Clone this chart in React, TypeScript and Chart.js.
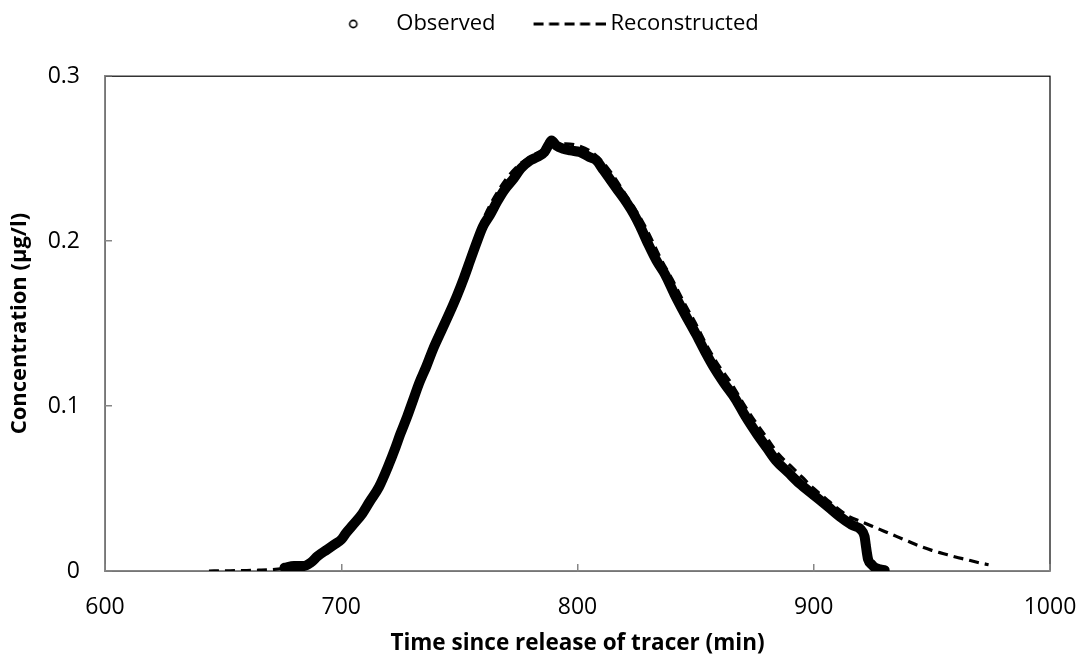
import React, { useEffect, useRef } from 'react';
import { Chart, registerables } from 'chart.js';

Chart.register(...registerables);

// ---- Data ----
const seriesNames = ['Observed', 'Reconstructed'];

const obsTime = [
  676, 680, 684, 687, 690, 694, 697, 700, 702, 705, 709, 712, 716, 720, 723, 725, 728, 730.5, 733, 736,
  739, 742.5, 746, 749, 752, 754.5, 757, 760, 763, 766, 769, 773, 776, 780, 783, 786, 788, 789, 791, 794,
  797, 801, 805, 808, 811, 814, 817, 821, 824, 826.5, 830, 833.5, 837, 841, 845, 850, 854, 857.5, 862, 867,
  871, 876, 880, 884, 889, 894, 900, 906, 911, 916, 920, 921.5, 922, 922.5, 923, 924.5, 926, 928, 930,
];
const obsConc = [
  0.002, 0.003, 0.003, 0.005, 0.009, 0.013, 0.016, 0.019, 0.023, 0.028, 0.035, 0.042, 0.051, 0.064, 0.075, 0.083, 0.094, 0.104, 0.114, 0.124,
  0.135, 0.146, 0.157, 0.167, 0.178, 0.188, 0.198, 0.209, 0.216, 0.224, 0.231, 0.238, 0.244, 0.249, 0.251, 0.254, 0.259, 0.261, 0.258, 0.256,
  0.255, 0.254, 0.251, 0.249, 0.243, 0.237, 0.231, 0.223, 0.216, 0.209, 0.198, 0.188, 0.18, 0.168, 0.157, 0.144, 0.133, 0.124, 0.114, 0.104,
  0.094, 0.083, 0.075, 0.067, 0.06, 0.053, 0.046, 0.039, 0.033, 0.028, 0.025, 0.021, 0.016, 0.011, 0.007, 0.004, 0.002, 0.001, 0.0005,
];

const recTime = [
  644, 650, 655, 660, 665, 670, 675, 680, 685, 690, 695, 700, 705, 710, 715, 720, 725, 730, 735, 740,
  745, 750, 755, 760, 765, 770, 775, 780, 785, 790, 795, 800, 805, 810, 815, 820, 825, 830, 835, 840,
  845, 850, 855, 860, 865, 870, 875, 880, 885, 890, 895, 900, 905, 910, 915, 920, 925, 930, 935, 940,
  945, 950, 955, 960, 965, 970, 974,
];
const recConc = [
  0.0, 0.0001, 0.0002, 0.0003, 0.0005, 0.0008, 0.0015, 0.003, 0.005, 0.009, 0.014, 0.02, 0.028, 0.038, 0.05, 0.064, 0.082, 0.101, 0.12, 0.139,
  0.156, 0.174, 0.195, 0.213, 0.227, 0.238, 0.246, 0.251, 0.255, 0.258, 0.259, 0.258, 0.255, 0.249, 0.24, 0.229, 0.218, 0.205, 0.19, 0.177,
  0.163, 0.15, 0.136, 0.124, 0.114, 0.102, 0.091, 0.081, 0.071, 0.064, 0.057, 0.05, 0.044, 0.038, 0.033, 0.03, 0.027, 0.024, 0.021, 0.018,
  0.015, 0.0125, 0.0105, 0.0085, 0.0068, 0.005, 0.0038,
];

const xMin = 600;
const xMax = 1000;
const xStep = 100;
const yMin = 0;
const yMax = 0.3;
const yStep = 0.1;

const xTitle = 'Time since release of tracer (min)';
const yTitle = 'Concentration (µg/l)';

const FONT = "'Open Sans', sans-serif";
const AXIS_GRAY = '#868686';

function circleIcon(): HTMLCanvasElement {
  const c = document.createElement('canvas');
  c.width = 60;
  c.height = 14;
  const ctx = c.getContext('2d');
  if (ctx) {
    ctx.strokeStyle = '#000';
    ctx.lineWidth = 1.6;
    ctx.beginPath();
    ctx.arc(45, 7, 3.6, 0, Math.PI * 2);
    ctx.stroke();
  }
  return c;
}

function dashIcon(): HTMLCanvasElement {
  const c = document.createElement('canvas');
  c.width = 106;
  c.height = 10;
  const ctx = c.getContext('2d');
  if (ctx) {
    ctx.strokeStyle = '#000';
    ctx.lineWidth = 3;
    ctx.setLineDash([10, 5.5]);
    ctx.beginPath();
    ctx.moveTo(34, 5);
    ctx.lineTo(106, 5);
    ctx.stroke();
  }
  return c;
}

const framePlugin = {
  id: 'plotFrame',
  beforeDraw(chart: any) {
    const { ctx, chartArea } = chart;
    ctx.save();
    ctx.strokeStyle = '#000';
    ctx.lineWidth = 1.2;
    ctx.strokeRect(chartArea.left, chartArea.top, chartArea.right - chartArea.left, chartArea.bottom - chartArea.top);
    ctx.restore();
  },
};

export default function App() {
  const canvasRef = useRef<HTMLCanvasElement | null>(null);

  useEffect(() => {
    if (!canvasRef.current) return;
    const icons = [circleIcon(), dashIcon()];
    const chart = new Chart(canvasRef.current, {
      type: 'scatter',
      data: {
        datasets: [
          {
            label: seriesNames[0],
            data: obsTime.map((t, i) => ({ x: t, y: obsConc[i] })),
            showLine: true,
            borderColor: '#000',
            backgroundColor: '#000',
            borderWidth: 10,
            borderCapStyle: 'round',
            borderJoinStyle: 'round',
            cubicInterpolationMode: 'monotone',
            pointRadius: 4,
            pointBorderWidth: 1,
            pointBackgroundColor: '#000',
            pointBorderColor: '#000',
          },
          {
            label: seriesNames[1],
            data: recTime.map((t, i) => ({ x: t, y: recConc[i] })),
            showLine: true,
            borderColor: '#000',
            backgroundColor: '#000',
            borderWidth: 3.2,
            borderDash: [10, 6],
            cubicInterpolationMode: 'monotone',
            pointRadius: 0,
          },
        ],
      },
      options: {
        animation: false,
        responsive: true,
        maintainAspectRatio: false,
        layout: { padding: { left: 0, right: 28, top: 3, bottom: 0 } },
        plugins: {
          tooltip: { enabled: false },
          legend: {
            display: true,
            position: 'top',
            labels: {
              usePointStyle: true,
              pointStyleWidth: 94,
              padding: 10,
              color: '#000',
              font: { family: FONT, size: 22 },
              generateLabels: (ch: any) =>
                ch.data.datasets.map((ds: any, i: number) => ({
                  text: ds.label,
                  pointStyle: icons[i],
                  fillStyle: 'transparent',
                  strokeStyle: 'transparent',
                  lineWidth: 0,
                  hidden: false,
                  datasetIndex: i,
                })),
            },
          },
          subtitle: {
            display: true,
            text: '',
            weight: 500,
            font: { size: 1 },
            padding: { top: 0, bottom: 30 },
          } as any,
        },
        scales: {
          x: {
            type: 'linear',
            min: xMin,
            max: xMax,
            ticks: {
              stepSize: xStep,
              color: '#000',
              font: { family: FONT, size: 23 },
              padding: 30,
              callback: (v: any) => String(v),
            },
            grid: {
              drawOnChartArea: false,
              drawTicks: true,
              tickLength: -7,
              color: AXIS_GRAY,
              lineWidth: 1.5,
            },
            border: { display: true, color: AXIS_GRAY, width: 1.5 },
            title: {
              display: true,
              text: xTitle,
              color: '#000',
              font: { family: FONT, size: 22.5, weight: 'bold' },
              padding: { top: 0, bottom: 0 },
            },
            afterFit: (s: any) => {
              s.height = 86;
              s.paddingRight = 0;
              s.paddingLeft = 0;
            },
          },
          y: {
            type: 'linear',
            min: yMin,
            max: yMax,
            ticks: {
              stepSize: yStep,
              color: '#000',
              font: { family: FONT, size: 23 },
              padding: 32,
              callback: (v: any) => String(Number(Number(v).toFixed(1))),
            },
            grid: {
              drawOnChartArea: false,
              drawTicks: true,
              tickLength: -7,
              color: AXIS_GRAY,
              lineWidth: 1.5,
            },
            border: { display: true, color: AXIS_GRAY, width: 1.5 },
            title: {
              display: true,
              text: yTitle,
              color: '#000',
              font: { family: FONT, size: 22, weight: 'bold' },
              padding: { top: 7, bottom: 0 },
            },
            afterFit: (s: any) => {
              s.width = 105;
            },
          },
        },
      } as any,
      plugins: [framePlugin],
    });
    return () => chart.destroy();
  }, []);

  return (
    <div style={{ position: 'absolute', left: 0, top: 0, width: 1078, height: 657, background: '#fff' }}>
      <canvas ref={canvasRef} />
    </div>
  );
}
